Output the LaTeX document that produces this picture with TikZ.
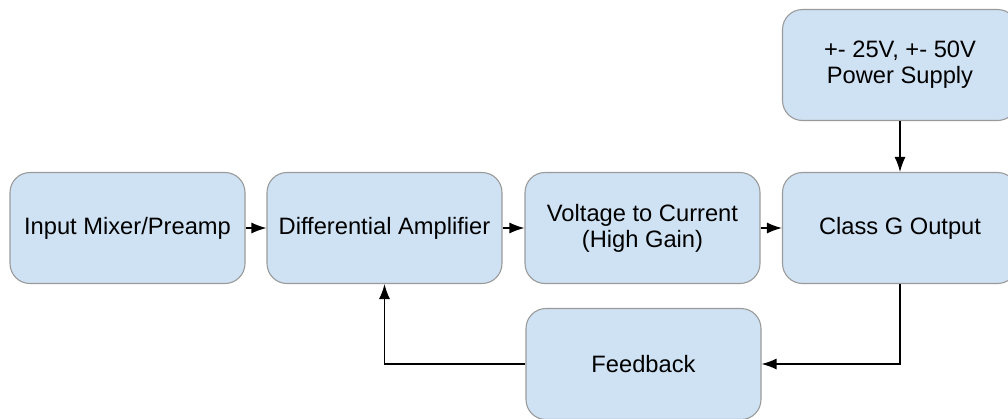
\documentclass[tikz,border=0pt]{standalone}
\usepackage{fontspec}
\setmainfont{Liberation Sans}
\usetikzlibrary{arrows.meta}
\definecolor{boxfill}{HTML}{CFE2F3}
\definecolor{boxline}{HTML}{9A9A9A}
\tikzset{
  block/.style={draw=boxline, fill=boxfill, line width=1.1pt, rounded corners=20pt,
    minimum width=235pt, minimum height=111pt, align=center, inner sep=0pt,
    font=\fontsize{23.7}{26}\selectfont},
  conn/.style={draw=black, line width=1.3pt, -{Latex[length=15pt,width=11pt]}}
}
\begin{document}
\begin{tikzpicture}[x=1pt,y=1pt]
\useasboundingbox (0,0) rectangle (1008,-418);
\clip (0,0) rectangle (1008,-418);
\node[block] (inp) at (127.5,-228) {Input Mixer/Preamp};
\node[block] (diff) at (384.5,-228) {Differential Amplifier};
\node[block] (v2c) at (642.5,-228) {Voltage to Current\\(High Gain)};
\node[block] (cls) at (900,-228) {Class G Output};
\node[block] (pwr) at (900,-65) {+- 25V, +- 50V\\Power Supply};
\node[block] (fb) at (643.5,-364) {Feedback};
\draw[conn] (inp) -- (diff);
\draw[conn] (diff) -- (v2c);
\draw[conn] (v2c) -- (cls);
\draw[conn] (pwr) -- (cls);
\draw[conn] (cls.south) |- (fb.east);
\draw[conn] (fb.west) -| (diff.south);
\end{tikzpicture}
\end{document}
